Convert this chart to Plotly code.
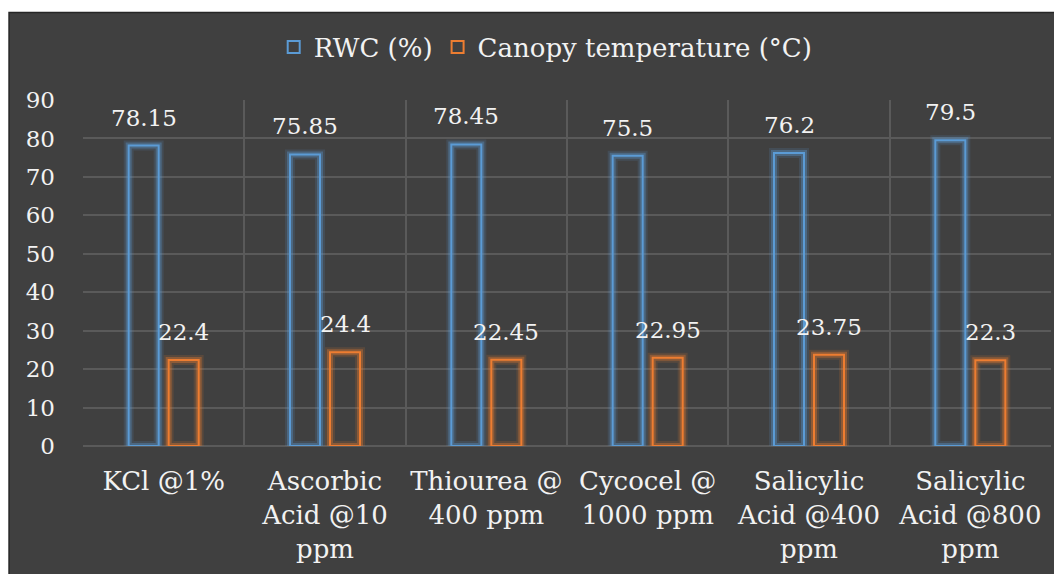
import plotly.graph_objects as go

categories = ["KCl @1%", "Ascorbic<br>Acid @10<br>ppm", "Thiourea @<br>400 ppm",
              "Cycocel @<br>1000 ppm", "Salicylic<br>Acid @400<br>ppm", "Salicylic<br>Acid @800<br>ppm"]
rwc = [78.15, 75.85, 78.45, 75.5, 76.2, 79.5]
canopy = [22.4, 24.4, 22.45, 22.95, 23.75, 22.3]
rwc_labels = ["78.15", "75.85", "78.45", "75.5", "76.2", "79.5"]
canopy_labels = ["22.4", "24.4", "22.45", "22.95", "23.75", "22.3"]

BLUE = "#5B9BD5"
ORANGE = "#ED7D31"
FONT = "DejaVu Serif"
TXT = "#f2f2f2"

fig = go.Figure()

def add_series(name, vals, color, rgb, group):
    for w, a in [(10, 0.15), (6, 0.35)]:
        fig.add_trace(go.Bar(x=categories, y=vals, offsetgroup=group, showlegend=False,
                             hoverinfo="skip",
                             marker=dict(color="rgba(0,0,0,0)",
                                         line=dict(color=f"rgba({rgb},{a})", width=w))))
    fig.add_trace(go.Bar(x=categories, y=vals, name=name, offsetgroup=group,
                         marker=dict(color="rgba(0,0,0,0)", line=dict(color=color, width=2))))

add_series("RWC (%)", rwc, BLUE, "91,155,213", "a")
add_series("Canopy temperature (°C)", canopy, ORANGE, "237,125,49", "b")

annotations = []
for c, v, t in zip(categories, rwc, rwc_labels):
    annotations.append(dict(x=c, y=v, text=t, showarrow=False, xshift=-20, yshift=13,
                            yanchor="bottom", font=dict(family=FONT, size=23, color=TXT)))
for c, v, t in zip(categories, canopy, canopy_labels):
    annotations.append(dict(x=c, y=v, text=t, showarrow=False, xshift=20, yshift=13,
                            yanchor="bottom", font=dict(family=FONT, size=23, color=TXT)))

fig.update_layout(
    width=1054, height=574,
    margin=dict(l=83, r=3, t=100, b=127.5),
    paper_bgcolor="white",
    plot_bgcolor="#404040",
    barmode="group",
    bargap=0.504,
    bargroupgap=0.25,
    font=dict(family=FONT, size=23, color=TXT),
    showlegend=True,
    legend=dict(orientation="h", x=0.478, xanchor="center", y=1.153, yanchor="middle",
                font=dict(family=FONT, size=26, color=TXT), bgcolor="rgba(0,0,0,0)",
                traceorder="normal"),
    annotations=annotations,
    shapes=[dict(type="rect", xref="paper", yref="paper", x0=-0.0764, x1=1.01,
                 y0=-0.4, y1=1.253, fillcolor="#404040",
                 line=dict(width=1.5, color="#262626"), layer="below")],
)

fig.update_xaxes(tickson="boundaries", showgrid=True, gridcolor="#5a5a5a", gridwidth=1.5,
                 ticks="", showline=False, tickfont=dict(family=FONT, size=26, color=TXT),
                 ticklabelstandoff=17, tickangle=0)
fig.update_yaxes(range=[0, 90], dtick=10, showgrid=True, gridcolor="#5a5a5a", gridwidth=1.5,
                 zeroline=True, zerolinecolor="#5a5a5a", zerolinewidth=1.5,
                 ticks="", showline=False, tickfont=dict(family=FONT, size=23, color=TXT),
                 ticklabelstandoff=27)

fig.write_html("out.html")
